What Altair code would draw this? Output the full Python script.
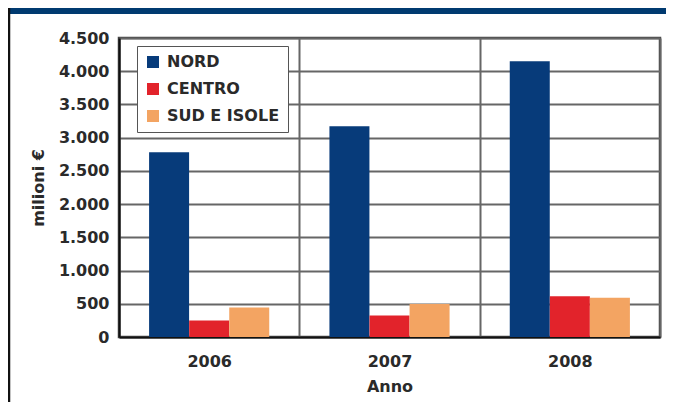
import altair as alt
import pandas as pd

years = ["2006", "2007", "2008"]
regions = ["NORD", "CENTRO", "SUD E ISOLE"]
nord = [2780, 3170, 4150]
centro = [250, 325, 615]
sud = [445, 495, 590]
colors = ["#073b7a", "#e2232b", "#f3a462"]

rows = []
for i, y in enumerate(years):
    for r, vals in zip(regions, [nord, centro, sud]):
        rows.append({"Anno": y, "Area": r, "Valore": vals[i]})
df = pd.DataFrame(rows)

W, H = 541, 299
PL, PT, PR, PB = 111, 30, 6, 65
FONT = "DejaVu Sans"

bars = alt.Chart(df).mark_bar(size=40).encode(
    x=alt.X("Anno:N", sort=years,
            scale=alt.Scale(paddingInner=0, paddingOuter=0),
            axis=alt.Axis(title="Anno", labelAngle=0, ticks=False,
                          grid=True, tickBand="extent", gridColor="#666666",
                          gridWidth=2, domainColor="#111", domainWidth=2.2,
                          labelFont=FONT, labelFontSize=16, labelFontWeight="bold",
                          labelColor="#2a2a2a", labelPadding=16,
                          titleFont=FONT, titleFontSize=16, titleFontWeight="bold",
                          titleColor="#2a2a2a", titlePadding=9)),
    xOffset=alt.XOffset("Area:N", sort=regions,
                        scale=alt.Scale(paddingInner=0, paddingOuter=0.75)),
    y=alt.Y("Valore:Q", scale=alt.Scale(domain=[0, 4500], nice=False),
            axis=alt.Axis(title="milioni €", values=list(range(0, 4501, 500)),
                          labelExpr="replace(format(datum.value, ','), ',', '.')",
                          ticks=False, grid=True, gridColor="#666666", gridWidth=2,
                          domainColor="#111", domainWidth=2.2,
                          labelFont=FONT, labelFontSize=16, labelFontWeight="bold",
                          labelColor="#2a2a2a", labelPadding=10,
                          titleFont=FONT, titleFontSize=16, titleFontWeight="bold",
                          titleColor="#2a2a2a", titlePadding=12)),
    color=alt.Color("Area:N", sort=regions,
                    scale=alt.Scale(domain=regions, range=colors),
                    legend=alt.Legend(title=None, orient="none", legendX=18, legendY=8,
                                      symbolType="square", symbolSize=144,
                                      symbolStrokeWidth=0, labelFont=FONT,
                                      labelFontSize=16, labelFontWeight="bold",
                                      labelColor="#2a2a2a", labelOffset=6,
                                      rowPadding=11, padding=8,
                                      strokeColor="#555", fillColor="white")),
)

deco = pd.DataFrame({"k": [0]})
header = alt.Chart(deco).mark_rect(color="#003a70").encode(
    x=alt.value(-PL + 1), x2=alt.value(W + PR), y=alt.value(-PT), y2=alt.value(-PT + 6)
)
left_line = alt.Chart(deco).mark_rule(color="#111", strokeWidth=2.5).encode(
    x=alt.value(-PL + 1), y=alt.value(-PT), y2=alt.value(H + PB)
)

chart = alt.layer(bars, header, left_line).properties(
    width=W, height=H,
    autosize=alt.AutoSizeParams(type="none"),
    padding={"left": PL, "top": PT, "right": PR, "bottom": PB},
    background="white",
).configure_view(stroke="#444", strokeWidth=2.5)

chart.save("out.html", embed_options={"renderer": "svg", "actions": False})
